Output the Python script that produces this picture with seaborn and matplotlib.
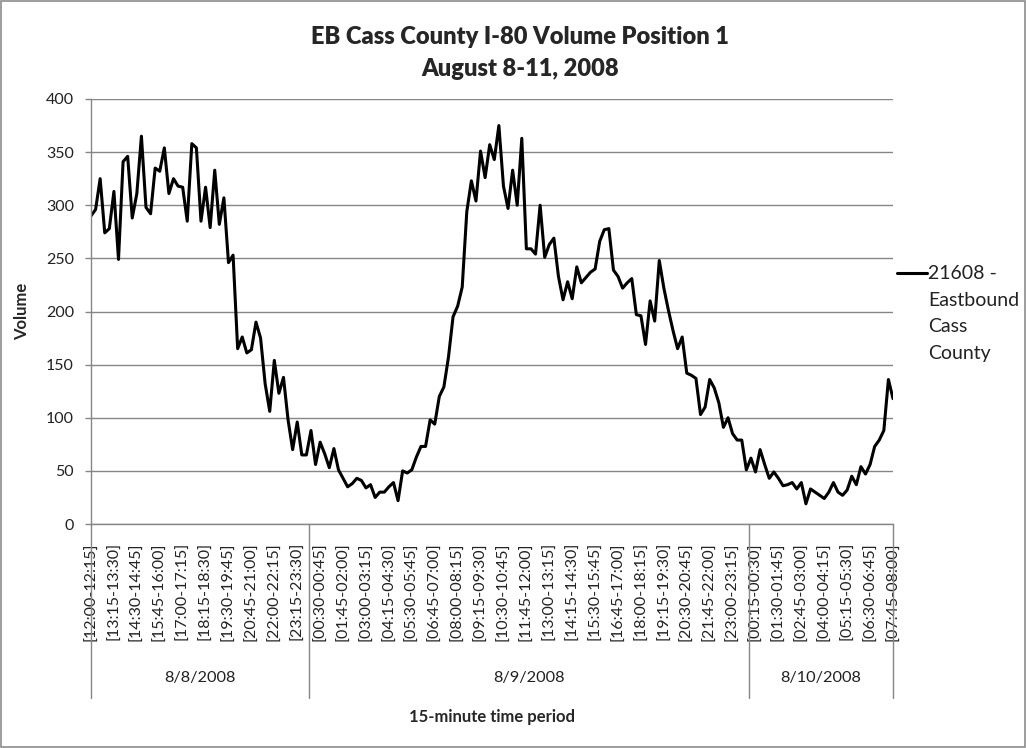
import matplotlib
matplotlib.use("Agg")
import matplotlib.pyplot as plt
from matplotlib.lines import Line2D
from matplotlib.patches import Rectangle
import seaborn as sns
import pandas as pd

# 15-minute volumes, 8/8 12:00 through 8/10 08:00
vol_day1 = [290, 296, 325, 274, 278, 313, 249, 341, 346, 288,
            311, 365, 298, 292, 335, 332, 354, 311, 325, 318,
            317, 285, 358, 354, 285, 317, 279, 333, 282, 307,
            246, 253, 165, 176, 161, 164, 190, 175, 132, 106,
            154, 123, 138, 98, 70, 96, 65, 65]
vol_day2 = [88, 56, 77, 66, 53, 71, 51, 43, 35, 38, 43, 41,
            34, 37, 25, 30, 30, 35, 39, 22, 50, 48,
            51, 63, 73, 73, 98, 94, 120, 129, 157, 195,
            205, 223, 294, 323, 304, 351, 326, 357, 343, 375,
            318, 297, 333, 300, 363, 259, 259, 254, 300, 251,
            263, 269, 233, 211, 228, 212, 242, 227, 232, 237,
            240, 266, 277, 278, 239, 233, 222, 227, 231, 197,
            196, 169, 210, 191, 248, 222, 201, 182, 165, 176,
            142, 140, 137, 103, 110, 136, 128, 114, 91, 100,
            85, 79, 79, 51]
vol_day3 = [62, 49, 70, 56, 43, 49, 43, 36, 37, 39,
            33, 39, 19, 33, 30, 27, 24, 30, 39, 30,
            27, 32, 45, 37, 54, 47, 56, 73, 79, 88,
            136, 118]

days = ["8/8/2008", "8/9/2008", "8/10/2008"]
day_counts = [len(vol_day1), len(vol_day2), len(vol_day3)]

tick_labels = [
    "[12:00-12:15]", "[13:15-13:30]", "[14:30-14:45]", "[15:45-16:00]",
    "[17:00-17:15]", "[18:15-18:30]", "[19:30-19:45]", "[20:45-21:00]",
    "[22:00-22:15]", "[23:15-23:30]",
    "[00:30-00:45]", "[01:45-02:00]", "[03:00-03:15]", "[04:15-04:30]",
    "[05:30-05:45]", "[06:45-07:00]", "[08:00-08:15]", "[09:15-09:30]",
    "[10:30-10:45]", "[11:45-12:00]", "[13:00-13:15]", "[14:15-14:30]",
    "[15:30-15:45]", "[16:45-17:00]", "[18:00-18:15]", "[19:15-19:30]",
    "[20:30-20:45]", "[21:45-22:00]", "[23:00-23:15]",
    "[00:15-00:30]", "[01:30-01:45]", "[02:45-03:00]", "[04:00-04:15]",
    "[05:15-05:30]", "[06:30-06:45]", "[07:45-08:00]",
]

legend_lines = ["21608 -", "Eastbound", "Cass", "County"]

volumes = vol_day1 + vol_day2 + vol_day3
df = pd.DataFrame({"period": range(len(volumes)), "volume": volumes})

sns.set_theme(style="white")
plt.rcParams["font.family"] = ["Lato", "DejaVu Sans"]

W, H = 1026, 748
fig = plt.figure(figsize=(W / 100, H / 100), dpi=100)
ax = fig.add_axes([91 / W, 1 - 524 / H, (893 - 91) / W, (524 - 99) / H])

grey = "#868686"
txt = "#222222"
sns.lineplot(data=df, x="period", y="volume", ax=ax, color="black",
             linewidth=2.2, legend=False)

ax.set_xlim(0, len(volumes) - 1)
ax.set_ylim(0, 400)
ax.set_yticks(range(0, 401, 50))
ax.yaxis.grid(True, color=grey, linewidth=1)
ax.xaxis.grid(False)
ax.set_axisbelow(True)
for s in ["top", "right"]:
    ax.spines[s].set_visible(False)
for s in ["left", "bottom"]:
    ax.spines[s].set_color(grey)
    ax.spines[s].set_linewidth(1)

ax.tick_params(axis="y", left=True, length=4.3, width=1, color=grey,
               labelsize=11.5, pad=8, labelcolor=txt)
ax.set_xticks(range(0, len(volumes), 5))
ax.set_xticklabels(tick_labels, rotation=90, fontsize=11.5, color=txt)
ax.tick_params(axis="x", length=0, pad=13)
ax.set_xlabel("")
ax.set_ylabel("")

# day group separators and labels under the axis
trans = ax.get_xaxis_transform()
bottom = -(698 - 524) / 425
edges = [0]
for c in day_counts:
    edges.append(edges[-1] + c)
bounds = [0] + [e - 0.5 for e in edges[1:-1]] + [len(volumes) - 1]
for b in bounds:
    ax.add_line(Line2D([b, b], [0, bottom], transform=trans, color=grey,
                       linewidth=1, clip_on=False))
for k, d in enumerate(days):
    mid = (bounds[k] + bounds[k + 1]) / 2
    ax.text(mid, -(678 - 524) / 425, d, transform=trans, ha="center",
            va="center", fontsize=11.8, color=txt)

fig.text(492 / W, 1 - 717 / H, "15-minute time period", ha="center",
         va="center", fontsize=12, fontweight="bold")
fig.text(22 / W, 1 - 311 / H, "Volume", ha="center", va="center",
         rotation=90, fontsize=12, fontweight="bold")

fig.text(520 / W, 1 - 37 / H, "EB Cass County I-80 Volume Position 1",
         ha="center", va="center", fontsize=17, fontweight=800)
fig.text(520 / W, 1 - 69 / H, "August 8-11, 2008", ha="center",
         va="center", fontsize=17, fontweight=800)

# legend
fig.add_artist(Line2D([897 / W, 927 / W], [1 - 273 / H, 1 - 273 / H],
                      transform=fig.transFigure, color="black", linewidth=2.2))
for j, line in enumerate(legend_lines):
    fig.text(928 / W, 1 - (279 + 26.5 * j) / H, line, ha="left",
             va="baseline", fontsize=14, color=txt)

fig.patches.append(Rectangle((0.001, 0.001), 0.998, 0.997, transform=fig.transFigure,
                             fill=False, edgecolor="#8c8c8c", linewidth=1.2))

fig.savefig("out.png", dpi=100, facecolor="white")
